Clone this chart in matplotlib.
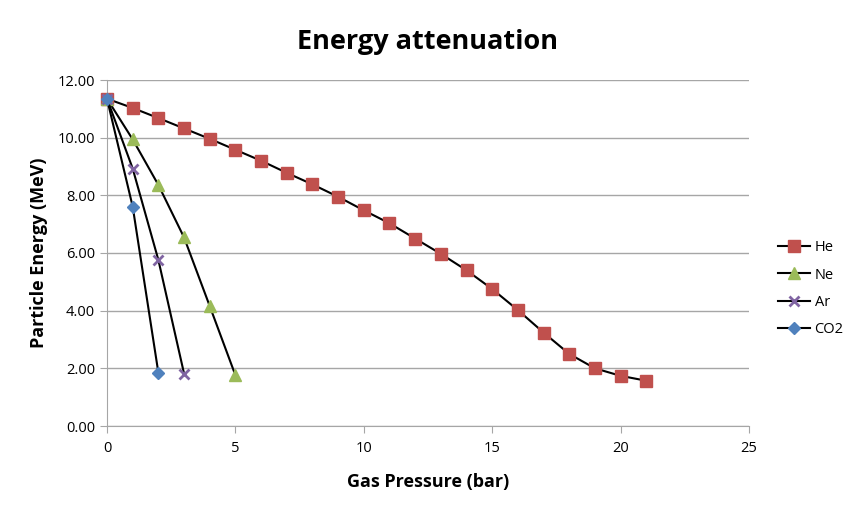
import matplotlib
matplotlib.use("Agg")
import matplotlib.pyplot as plt

he_x = list(range(0, 22))
he_y = [11.35, 11.03, 10.68, 10.32, 9.96, 9.58, 9.20, 8.78, 8.38, 7.95, 7.48,
        7.03, 6.50, 5.97, 5.40, 4.75, 4.02, 3.24, 2.50, 2.00, 1.74, 1.57]
ne_x = [0, 1, 2, 3, 4, 5]
ne_y = [11.35, 9.94, 8.36, 6.54, 4.16, 1.76]
ar_x = [0, 1, 2, 3]
ar_y = [11.35, 8.93, 5.76, 1.82]
co2_x = [0, 1, 2]
co2_y = [11.35, 7.61, 1.85]

yticks = [0, 2, 4, 6, 8, 10, 12]
xticks = [0, 5, 10, 15, 20, 25]

plt.rcParams['font.family'] = ['Open Sans', 'DejaVu Sans']

fig = plt.figure(figsize=(8.53, 5.13), dpi=100)
ax = fig.add_axes([107/853, 1-426/513, (749-107)/853, (426-80)/513])

series = [
    ("He", he_x, he_y, dict(marker='s', markersize=8, markerfacecolor='#C0504D', markeredgecolor='#C0504D')),
    ("Ne", ne_x, ne_y, dict(marker='^', markersize=8, markerfacecolor='#9BBB59', markeredgecolor='#9BBB59')),
    ("Ar", ar_x, ar_y, dict(marker='x', markersize=7, markeredgewidth=2, markeredgecolor='#8064A2')),
    ("CO2", co2_x, co2_y, dict(marker='D', markersize=6, markerfacecolor='#4F81BD', markeredgecolor='#4F81BD')),
]
for name, xs, ys, st in series:
    ax.plot(xs, ys, color='black', linewidth=1.5, label=name, clip_on=False, zorder=3, **st)

ax.set_xlim(0, 25)
ax.set_ylim(0, 12)
ax.set_xticks(xticks)
ax.set_yticks(yticks)
ax.set_yticklabels([f"{v:.2f}" for v in yticks])
ax.grid(axis='y', color='#A6A6A6', linewidth=1)
ax.set_axisbelow(True)
for s in ['top', 'right']:
    ax.spines[s].set_visible(False)
ax.spines['left'].set_color('#A6A6A6')
ax.spines['bottom'].set_color('#A6A6A6')
ax.tick_params(axis='both', colors='#A6A6A6', labelcolor='black', labelsize=10.5, length=5)
ax.tick_params(axis='x', pad=6)

ax.set_title("Energy attenuation", fontsize=19.5, fontweight='bold', pad=22)
ax.set_xlabel("Gas Pressure (bar)", fontsize=13, fontweight='bold', labelpad=12)
ax.set_ylabel("Particle Energy (MeV)", fontsize=13, fontweight='bold', labelpad=7)

leg = ax.legend(loc='upper left', bbox_to_anchor=(765/853, 1-227/513), bbox_transform=fig.transFigure,
                frameon=False, fontsize=10.5, handlelength=2.2, labelspacing=0.85, handletextpad=0.3)

fig.savefig("out.png", dpi=100)
